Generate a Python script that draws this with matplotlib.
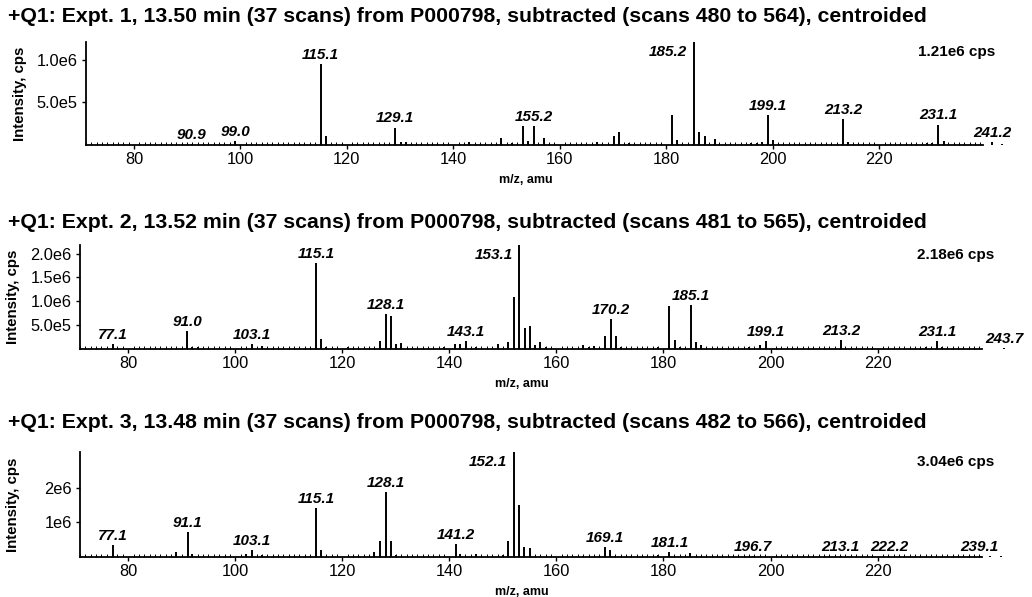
import numpy as np
import matplotlib
matplotlib.use('Agg')
import matplotlib.pyplot as plt
from matplotlib.ticker import MultipleLocator

plt.rcParams['font.family'] = ['Liberation Sans', 'DejaVu Sans']

# spectrum 1 (Expt. 1)
mz1 = [90.9, 99.0, 115.1, 116.1, 129.1, 130.1, 131.1, 143.0, 149.0, 151.0, 153.1, 154.1,
       155.2, 157.1, 167.0, 170.1, 171.1, 173.0, 181.1, 182.1, 185.2, 186.1, 187.2, 189.1,
       196.0, 197.0, 198.0, 199.1, 200.1, 213.2, 214.1, 229.0, 230.0, 231.1, 232.1, 241.2, 243.0]
int1 = [0.01e6, 0.05e6, 0.95e6, 0.10e6, 0.205e6, 0.03e6, 0.03e6, 0.03e6, 0.08e6, 0.02e6, 0.22e6, 0.05e6,
        0.22e6, 0.08e6, 0.03e6, 0.107e6, 0.155e6, 0.02e6, 0.35e6, 0.06e6, 1.21e6, 0.155e6, 0.11e6, 0.07e6,
        0.02e6, 0.02e6, 0.03e6, 0.357e6, 0.06e6, 0.31e6, 0.03e6, 0.02e6, 0.02e6, 0.24e6, 0.05e6, 0.04e6, 0.01e6]
labels1 = [90.9, 99.0, 115.1, 129.1, 155.2, 185.2, 199.1, 213.2, 231.1, 241.2]

# spectrum 2 (Expt. 2)
mz2 = [77.1, 91.0, 92.0, 93.0, 103.1, 105.0, 115.1, 116.1, 117.0, 121.0, 127.0, 128.1, 129.1,
       130.0, 131.0, 139.0, 141.0, 142.0, 143.1, 145.0, 149.0, 151.0, 152.1, 153.1, 154.1, 155.1,
       156.0, 157.0, 158.0, 165.0, 166.0, 167.0, 169.0, 170.2, 171.1, 172.0, 179.0, 181.1, 182.1,
       183.0, 185.1, 186.1, 187.0, 196.0, 198.0, 199.1, 213.2, 229.0, 231.1, 232.0, 243.7]
int2 = [0.10e6, 0.37e6, 0.05e6, 0.05e6, 0.10e6, 0.06e6, 1.81e6, 0.21e6, 0.04e6, 0.05e6, 0.16e6, 0.73e6, 0.70e6,
        0.10e6, 0.12e6, 0.04e6, 0.10e6, 0.10e6, 0.16e6, 0.05e6, 0.10e6, 0.14e6, 1.10e6, 2.18e6, 0.44e6, 0.49e6,
        0.09e6, 0.14e6, 0.04e6, 0.09e6, 0.04e6, 0.06e6, 0.27e6, 0.62e6, 0.27e6, 0.04e6, 0.05e6, 0.91e6, 0.18e6,
        0.04e6, 0.93e6, 0.14e6, 0.08e6, 0.05e6, 0.08e6, 0.16e6, 0.18e6, 0.04e6, 0.16e6, 0.04e6, 0.02e6]
labels2 = [77.1, 91.0, 103.1, 115.1, 128.1, 143.1, 153.1, 170.2, 185.1, 199.1, 213.2, 231.1, 243.7]

# spectrum 3 (Expt. 3)
mz3 = [77.1, 89.0, 91.1, 92.0, 102.0, 103.1, 105.0, 115.1, 116.1, 126.0, 127.0, 128.1, 129.1,
       130.0, 141.2, 142.0, 145.0, 150.0, 151.0, 152.1, 153.1, 154.0, 155.0, 165.0, 169.1, 170.0,
       171.0, 179.0, 181.1, 185.0, 196.7, 213.1, 222.2, 239.1, 241.0, 243.0]
int3 = [0.34e6, 0.15e6, 0.71e6, 0.10e6, 0.08e6, 0.20e6, 0.06e6, 1.41e6, 0.20e6, 0.15e6, 0.47e6, 1.89e6, 0.47e6,
        0.06e6, 0.37e6, 0.10e6, 0.10e6, 0.06e6, 0.46e6, 3.04e6, 1.50e6, 0.29e6, 0.27e6, 0.04e6, 0.28e6, 0.20e6,
        0.04e6, 0.06e6, 0.15e6, 0.12e6, 0.03e6, 0.03e6, 0.03e6, 0.03e6, 0.02e6, 0.02e6]
labels3 = [77.1, 91.1, 103.1, 115.1, 128.1, 141.2, 152.1, 169.1, 181.1, 196.7, 213.1, 222.2, 239.1]

titles = ['+Q1: Expt. 1, 13.50 min (37 scans) from P000798, subtracted (scans 480 to 564), centroided',
          '+Q1: Expt. 2, 13.52 min (37 scans) from P000798, subtracted (scans 481 to 565), centroided',
          '+Q1: Expt. 3, 13.48 min (37 scans) from P000798, subtracted (scans 482 to 566), centroided']
max_text = ['1.21e6 cps', '2.18e6 cps', '3.04e6 cps']
yticks = [[5e5, 1e6], [5e5, 1e6, 1.5e6, 2e6], [1e6, 2e6]]
ytick_labels = [['5.0e5', '1.0e6'], ['5.0e5', '1.0e6', '1.5e6', '2.0e6'], ['1e6', '2e6']]
xticks = [80, 100, 120, 140, 160, 180, 200, 220]

W, H = 1032, 597
fig = plt.figure(figsize=(W / 100, H / 100), dpi=100)

# axes boxes in pixels: left, right, top, bottom
boxes = [(86, 983, 42, 145), (80, 982, 245, 349), (80, 982, 452, 557)]
title_y = [17, 223, 423]


def draw_panel(ax, mz, inten, labels, i):
    ax.vlines(mz, 0, inten, color='black', lw=1.4, clip_on=False)
    ymax = max(inten)
    ax.set_xlim(71, 239.5)
    ax.set_ylim(0, ymax)
    for s in ['top', 'right']:
        ax.spines[s].set_visible(False)
    ax.spines['left'].set_linewidth(1.3)
    ax.spines['bottom'].set_linewidth(1.3)

    ax.set_xticks(xticks)
    ax.xaxis.set_minor_locator(MultipleLocator(1))
    ax.tick_params(axis='x', which='major', direction='out', length=3, width=1, labelsize=11.8, pad=2)
    ax.tick_params(axis='x', which='minor', direction='in', length=2, width=0.7)
    ax.set_yticks(yticks[i], ytick_labels[i])
    ax.tick_params(axis='y', direction='out', length=3, width=1, labelsize=11.8, pad=3)

    ax.set_xlabel('m/z, amu', fontsize=9, fontweight='bold')
    ax.xaxis.set_label_coords(0.49, -0.28)
    ax.set_ylabel('Intensity, cps', fontsize=10.8, fontweight='bold')
    ax.yaxis.set_label_coords(-0.066, 0.5)

    # peak labels
    for lab in labels:
        k = int(np.argmin(np.abs(np.array(mz) - lab)))
        y = inten[k]
        if y == ymax:
            ax.annotate('%.1f' % lab, xy=(mz[k], y), xytext=(-5, -7), textcoords='offset points',
                        ha='right', va='center', fontsize=11, fontweight='bold', fontstyle='italic',
                        annotation_clip=False)
        else:
            ax.annotate('%.1f' % lab, xy=(mz[k], y), xytext=(0, 1.5), textcoords='offset points',
                        ha='center', va='bottom', fontsize=11, fontweight='bold', fontstyle='italic',
                        annotation_clip=False)

    ax.annotate(max_text[i], xy=(1, 1), xycoords='axes fraction', xytext=(8.5, -7),
                textcoords='offset points', ha='right', va='center', fontsize=11, fontweight='bold')


data = [(mz1, int1, labels1), (mz2, int2, labels2), (mz3, int3, labels3)]
for i, (l, r, t, b) in enumerate(boxes):
    ax = fig.add_axes([l / W, 1 - b / H, (r - l) / W, (b - t) / H])
    draw_panel(ax, data[i][0], data[i][1], data[i][2], i)
    fig.text(8 / W, 1 - title_y[i] / H, titles[i], fontsize=15.3, fontweight='bold', va='center', ha='left')

fig.savefig('out.png', dpi=100)
